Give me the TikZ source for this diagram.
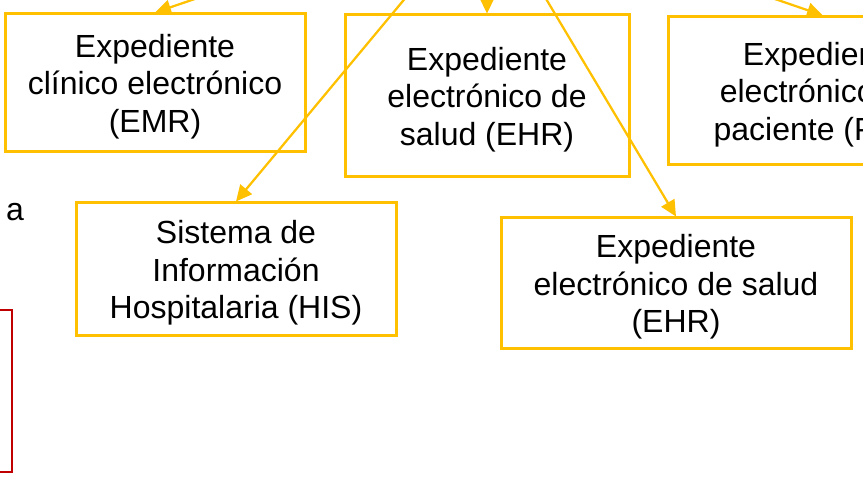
\documentclass[tikz,border=0pt]{standalone}
\usepackage{fontspec}
\setmainfont{Liberation Sans}
\usetikzlibrary{arrows.meta}
\definecolor{gold}{HTML}{FFC000}
\definecolor{darkred}{HTML}{C00000}

\begin{document}
\begin{tikzpicture}[x=1pt, y=-1pt,
    box/.style={draw=gold, line width=3pt, align=center, inner sep=0pt,
      text depth=-2pt, font=\fontsize{32}{37.5}\selectfont},
    link/.style={draw=gold, line width=2.25pt, -{Triangle[length=16pt,width=15pt]}}]
      \useasboundingbox (0,0) rectangle (863,489);
      \clip (0,0) rectangle (863,489);
      \coordinate (Hub) at (487,-100);
      \node (EMR) [box, minimum width=300pt, minimum height=138pt] at (155,83) {Expediente\\clínico electrónico\\(EMR)};
      \node (EHR) [box, minimum width=284pt, minimum height=162pt] at (487,96) {Expediente\\electrónico de\\salud (EHR)};
      \node (PHR) [box, minimum width=310pt, minimum height=148pt] at (823,91) {Expediente\\electrónico del\\paciente (PHR)};
      \node (HIS) [box, minimum width=320pt, minimum height=133pt] at (236,269.5) {Sistema de\\Información\\Hospitalaria (HIS)};
      \node (EHRb) [box, minimum width=350pt, minimum height=131pt] at (676,283.5) {Expediente\\electrónico de salud\\(EHR)};
      \node (Cut) [anchor=base east, inner sep=0pt, font=\fontsize{32}{37.5}\selectfont] at (24,221) {a};
      \draw[darkred, line width=2.5pt] (-40,310) rectangle (12,472);
      \draw[link] (Hub) -- (EMR.north);
      \draw[link] (Hub) -- (EHR.north);
      \draw[link] (Hub) -- (PHR.north);
      \draw[link] (Hub) -- (HIS.north);
      \draw[link] (Hub) -- (EHRb.north);
    \end{tikzpicture}
\end{document}
